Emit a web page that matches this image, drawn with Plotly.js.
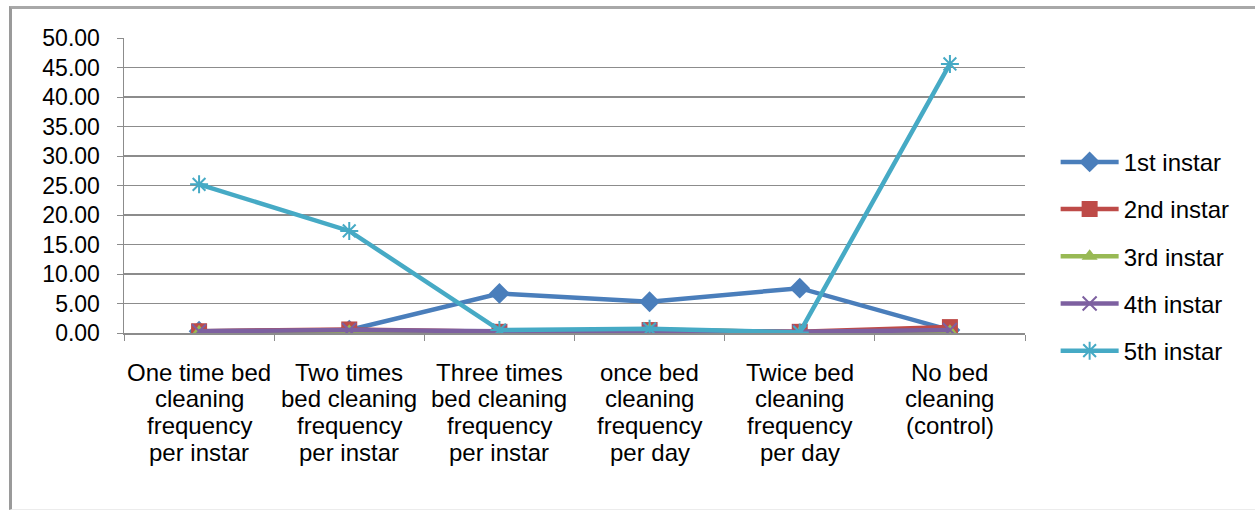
<!DOCTYPE html>
<html>
<head>
<meta charset="utf-8">
<script src="https://cdn.plot.ly/plotly-3.0.1.min.js"></script>
<style>
  html, body { margin: 0; padding: 0; background: #ffffff; }
  #wrap { position: relative; width: 1255px; height: 513px; }
  #chart { width: 1255px; height: 513px; }
  #frame { position: absolute; left: 9px; top: 6px; width: 1246px; height: 500px;
           border-left: 3px solid #9a9a9a; border-top: 3px solid #a8a8a8;
           border-bottom: 1px solid #ececec; pointer-events: none; }
</style>
</head>
<body>
<div id="wrap">
  <div id="chart"></div>
  <div id="frame"></div>
</div>
<script>
// ---- data ----
var categories = [
  "One time bed\ncleaning\nfrequency\nper instar",
  "Two times\nbed cleaning\nfrequency\nper instar",
  "Three times\nbed cleaning\nfrequency\nper instar",
  "once bed\ncleaning\nfrequency\nper day",
  "Twice bed\ncleaning\nfrequency\nper day",
  "No bed\ncleaning\n(control)"
];
var seriesNames = ["1st instar", "2nd instar", "3rd instar", "4th instar", "5th instar"];
var instar1 = [0.3, 0.5, 6.7, 5.3, 7.6, 0.5];
var instar2 = [0.3, 0.6, 0.2, 0.5, 0.2, 1.0];
var instar3 = [0.2, 0.3, 0.1, 0.6, 0.1, 0.3];
var instar4 = [0.3, 0.5, 0.3, 0.4, 0.2, 0.5];
var instar5 = [25.2, 17.3, 0.5, 0.7, 0.1, 45.6];
var yTicks = [0, 5, 10, 15, 20, 25, 30, 35, 40, 45, 50];

// ---- styles ----
var colors = ["#4a7ebb", "#be4b48", "#98b954", "#7d60a0", "#46aac5"];
var symbols = ["diamond", "square", "triangle-up", "x-thin-open", "asterisk-open"];
var msizes = [16, 16, 14, 14, 15];
var values = [instar1, instar2, instar3, instar4, instar5];

var xIdx = categories.map(function (_, i) { return i; });

var traces = values.map(function (v, k) {
  return {
    type: "scatter", mode: "lines+markers",
    x: xIdx, y: v, name: seriesNames[k],
    legendgroup: "g" + k,
    line: { color: colors[k], width: 4.5 },
    marker: { symbol: symbols[k], size: msizes[k], color: colors[k],
              line: { color: colors[k], width: (k >= 3 ? 2 : 0) } }
  };
});

var font = "Liberation Sans, Arial, sans-serif";
var annotations = [];
categories.forEach(function (c, i) {
  c.split("\n").forEach(function (ln, j) {
    annotations.push({
      x: i, y: 0, xref: "x", yref: "paper", text: ln, showarrow: false,
      xanchor: "center", yanchor: "middle", yshift: -39 - 26.7 * j,
      font: { family: font, size: 24, color: "#000000" }
    });
  });
});

var boundaries = [];
for (var b = 0; b <= categories.length; b++) boundaries.push(b - 0.5);

var layout = {
  width: 1255, height: 513,
  margin: { l: 124, r: 230, t: 38, b: 180 },
  paper_bgcolor: "#ffffff", plot_bgcolor: "#ffffff",
  showlegend: true,
  legend: { x: 1.034, y: 0.26, yanchor: "middle", xanchor: "left",
            font: { family: font, size: 24, color: "#000000" },
            itemwidth: 58, tracegroupgap: 13, bgcolor: "rgba(0,0,0,0)" },
  xaxis: {
    range: [-0.5, categories.length - 0.5],
    tickvals: boundaries, ticktext: boundaries.map(function () { return ""; }),
    ticks: "outside", ticklen: 6, tickcolor: "#8c8c8c", tickwidth: 1,
    showgrid: false, zeroline: false,
    showline: true, linecolor: "#8c8c8c", linewidth: 1.5,
    fixedrange: true
  },
  yaxis: {
    range: [0, 50], tickvals: yTicks, tickformat: ".2f",
    ticks: "outside", ticklen: 6, tickcolor: "#8c8c8c",
    ticklabelstandoff: 12,
    showgrid: true, gridcolor: "#8c8c8c", gridwidth: 1.5,
    zeroline: false, showline: true, linecolor: "#8c8c8c", linewidth: 1.5,
    tickfont: { family: font, size: 23, color: "#000000" },
    fixedrange: true
  },
  annotations: annotations
};

Plotly.newPlot("chart", traces, layout, { displayModeBar: false, staticPlot: true });
</script>
</body>
</html>
